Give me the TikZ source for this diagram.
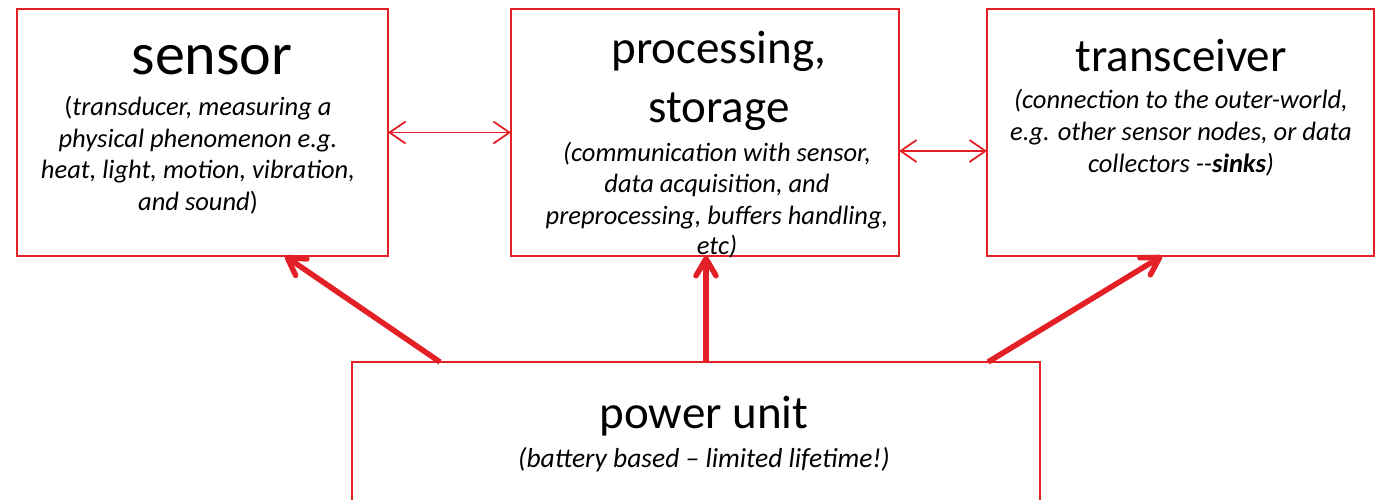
\documentclass[tikz,border=0pt]{standalone}
\usepackage{fontspec}
\setmainfont{Carlito}
\usetikzlibrary{arrows.meta}
\definecolor{boxred}{RGB}{226,32,38}
\begin{document}
\begin{tikzpicture}[x=1pt,y=-1pt,
  box/.style={draw=boxred, line width=1.8pt, inner sep=0pt, outer sep=0pt},
  bigttl/.style={anchor=base, inner sep=0pt, font=\fontsize{60}{72}\selectfont},
  ttl/.style={anchor=base, inner sep=0pt, font=\fontsize{47}{56}\selectfont},
  sub/.style={anchor=base, inner sep=0pt, font=\fontsize{26.5}{31}\selectfont\itshape},
  thinarr/.style={draw=boxred, line width=1.8pt, {Straight Barb[length=16pt,width=22pt]}-{Straight Barb[length=16pt,width=22pt]}},
  thickarr/.style={draw=boxred, line width=5.5pt, -{Straight Barb[length=17pt,width=20pt,round]}}]
\clip (0,0) rectangle (1375,499);
% boxes
\node[box, minimum width=371pt, minimum height=247pt] (sensor) at (202.5,132.5) {};
\node[box, minimum width=388pt, minimum height=247pt] (proc) at (705,132.5) {};
\node[box, minimum width=387pt, minimum height=247pt] (trans) at (1180.5,132.5) {};
\node[box, minimum width=688pt, minimum height=168pt] (power) at (696,446) {};
% sensor text
\node[bigttl] (s0) at (212,74) {sensor};
\node[sub] (s1) at (198,115) {\upshape(\itshape transducer, measuring a};
\node[sub] (s2) at (198,147) {physical phenomenon e.g.};
\node[sub] (s3) at (198,178) {heat, light, motion, vibration,};
\node[sub] (s4) at (198,210) {and sound\upshape)};
% processing text
\node[ttl] (p0) at (719,63) {processing,};
\node[ttl] (p1) at (719,122) {storage};
\node[sub] (p2) at (717,161) {(communication with sensor,};
\node[sub] (p3) at (717,192) {data acquisition, and};
\node[sub] (p4) at (717,224) {preprocessing, buffers handling,};
\node[sub] (p5) at (717,254) {etc)};
% transceiver text
\node[ttl] (t0) at (1181,71) {transceiver};
\node[sub] (t1) at (1181,108) {(connection to the outer-world,};
\node[sub] (t2) at (1181,140) {e.g. other sensor nodes, or data};
\node[sub] (t3) at (1181,172) {collectors -{}-\textbf{sinks})};
% power text
\node[ttl] (w0) at (704,428) {power unit};
\node[sub, font=\fontsize{27.5}{31}\selectfont\itshape] (w1) at (704,467) {(battery based -- limited lifetime!)};
% connectors
\draw[thinarr] (sensor.east) -- (proc.west);
\draw[thinarr] ([yshift=-18.5pt]proc.east) -- ([yshift=-18.5pt]trans.west);
\draw[thickarr] ([xshift=88pt]power.north west) -- ([xshift=268pt]sensor.south west);
\draw[thickarr] ([xshift=10pt]power.north) -- ([xshift=1pt]proc.south);
\draw[thickarr] ([xshift=-52pt]power.north east) -- ([xshift=175pt]trans.south west);
\end{tikzpicture}
\end{document}
